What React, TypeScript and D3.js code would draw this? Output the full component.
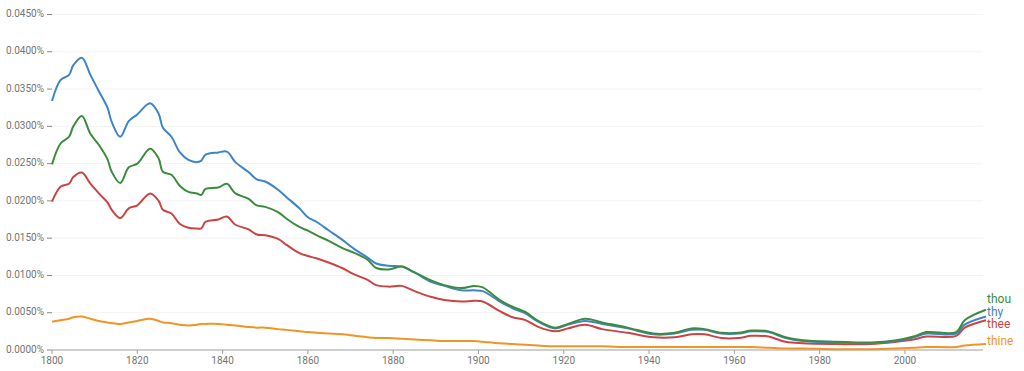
import React from 'react';
import * as d3 from 'd3';

const years = [1800, 1802, 1804, 1805, 1807, 1809, 1811, 1813, 1814, 1816, 1818, 1820, 1823, 1825, 1826, 1828, 1830, 1832, 1834, 1835, 1836, 1839, 1841, 1843, 1846, 1848, 1850, 1853, 1855, 1858, 1860, 1862, 1865, 1868, 1871, 1874, 1876, 1879, 1882, 1885, 1889, 1892, 1896, 1899, 1901, 1905, 1908, 1911, 1914, 1918, 1921, 1925, 1929, 1935, 1941, 1946, 1950, 1953, 1957, 1961, 1964, 1968, 1972, 1976, 1984, 1992, 1998, 2002, 2005, 2012, 2014, 2019];

// values in percent
const thy = [.0334, .0362, .0369, .0382, .0392, .0369, .0347, .0325, .0306, .0286, .0307, .0316, .0331, .0317, .0298, .0286, .0265, .0255, .0252, .0254, .0262, .0265, .0266, .0252, .0239, .0229, .0226, .0215, .0205, .0190, .0178, .0172, .0160, .0148, .0135, .0124, .0116, .0113, .0112, .0104, .0091, .0086, .0080, .0080, .0079, .0065, .0056, .0049, .0038, .0029, .0034, .0039, .0035, .0029, .0021, .0022, .0027, .0027, .0022, .0022, .0025, .0024, .0016, .0012, .0010, .0009, .0012, .0017, .0022, .0022, .0034, .0045];
const thou = [.0249, .0277, .0286, .0300, .0314, .0290, .0275, .0256, .0239, .0224, .0245, .0250, .0270, .0257, .0239, .0235, .0220, .0212, .0210, .0208, .0216, .0218, .0223, .0210, .0203, .0194, .0192, .0185, .0176, .0165, .0160, .0154, .0146, .0137, .0130, .0121, .0110, .0108, .0112, .0104, .0093, .0087, .0083, .0086, .0084, .0067, .0058, .0051, .0039, .0030, .0035, .0042, .0037, .0030, .0022, .0023, .0029, .0028, .0023, .0023, .0026, .0025, .0017, .0013, .0011, .0010, .0013, .0018, .0024, .0024, .0040, .0054];
const thee = [.0199, .0219, .0223, .0232, .0238, .0223, .0210, .0198, .0188, .0177, .0190, .0194, .0210, .0200, .0188, .0183, .0169, .0164, .0163, .0163, .0172, .0175, .0179, .0168, .0162, .0155, .0154, .0149, .0141, .0130, .0126, .0123, .0117, .0110, .0101, .0094, .0087, .0085, .0086, .0079, .0071, .0067, .0065, .0066, .0065, .0052, .0044, .0040, .0031, .0025, .0029, .0034, .0028, .0023, .0017, .0017, .0021, .0021, .0016, .0016, .0019, .0018, .0011, .0009, .0008, .0008, .0011, .0014, .0018, .0019, .0030, .0040];
const thine = [.0038, .0040, .0042, .0044, .0045, .0042, .0039, .0037, .0036, .0035, .0037, .0039, .0042, .0039, .0037, .0036, .0034, .0033, .0034, .0035, .0035, .0035, .0034, .0033, .0031, .0030, .0030, .0028, .0027, .0025, .0024, .0023, .0022, .0021, .0019, .0017, .0016, .0016, .0015, .0014, .0013, .0012, .0012, .0012, .0011, .0009, .0008, .0007, .0006, .0005, .0005, .0005, .0005, .0004, .0004, .0004, .0004, .0004, .0004, .0004, .0004, .0003, .0002, .0002, .0001, .0001, .0002, .0003, .0004, .0004, .0006, .0008];

const yTicks = [0, .005, .01, .015, .02, .025, .03, .035, .04, .045];
const xTicks = [1800, 1820, 1840, 1860, 1880, 1900, 1920, 1940, 1960, 1980, 2000];

// drawn bottom to top
const series = [
  { name: 'thine', values: thine, color: '#f29423', labelY: 342 },
  { name: 'thee', values: thee, color: '#cc4343', labelY: 325 },
  { name: 'thy', values: thy, color: '#3d85c8', labelY: 312.5 },
  { name: 'thou', values: thou, color: '#3d8b3d', labelY: 300 },
];

const W = 1024, H = 371;
const x = d3.scaleLinear().domain([1800, 2019]).range([52, 986]);
const y = d3.scaleLinear().domain([0, 0.045]).range([350, 14.5]);

export default function App() {
  const line = d3.line<number>()
    .x((d, i) => x(years[i]))
    .y(d => y(d))
    .curve(d3.curveCatmullRom.alpha(0.5));

  return (
    <svg width={W} height={H} style={{ position: 'absolute', left: 0, top: 0, fontFamily: 'Roboto, sans-serif' }}>
      <rect width={W} height={H} fill="#fff" />
      {yTicks.map(t => (
        <g key={t}>
          {t > 0 && <line x1={52} x2={983} y1={y(t)} y2={y(t)} stroke="#f3f3f3" />}
          <line x1={47} x2={52} y1={y(t)} y2={y(t)} stroke="#888" />
          <text x={44} y={y(t)} textAnchor="end" dominantBaseline="middle" fontSize={10} fill="#757575">
            {t.toFixed(4) + '%'}
          </text>
        </g>
      ))}
      <line x1={52} x2={983} y1={350} y2={350} stroke="#9e9e9e" />
      {xTicks.map(t => (
        <g key={t}>
          <line x1={x(t)} x2={x(t)} y1={350} y2={354} stroke="#9e9e9e" />
          <text x={x(t)} y={361} textAnchor="middle" dominantBaseline="middle" fontSize={10} fill="#757575">{t}</text>
        </g>
      ))}
      {series.map(s => (
        <path key={s.name} d={line(s.values) || ''} fill="none" stroke={s.color} strokeWidth={2} strokeLinejoin="round" />
      ))}
      {series.map(s => (
        <text key={s.name} x={987} y={s.labelY} dominantBaseline="middle" fontSize={12} fill={s.color}>{s.name}</text>
      ))}
    </svg>
  );
}
